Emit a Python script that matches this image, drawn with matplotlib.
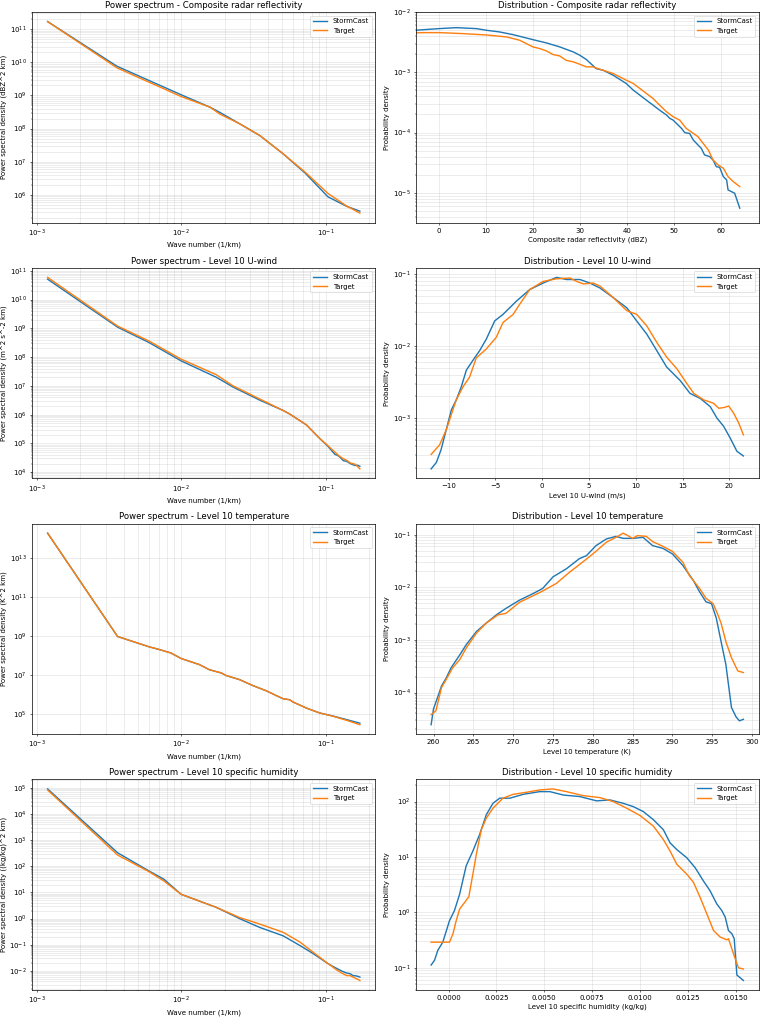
import matplotlib
matplotlib.use("Agg")
import matplotlib.pyplot as plt
from matplotlib.ticker import MultipleLocator, FormatStrFormatter

# ---------------- Power spectra ----------------
k_radar = [1.19e-3, 3.6e-3, 1.0e-2, 1.59e-2, 1.85e-2, 2.54e-2, 3.5e-2, 5.08e-2, 7.2e-2, 1.04e-1, 1.4e-1, 1.73e-1]
psd_radar_sc = [1.7e11, 7.6e9, 1.05e9, 4.4e8, 3.1e8, 1.4e8, 6.2e7, 1.74e7, 4.6e6, 8.7e5, 4.5e5, 3.2e5]
psd_radar_tg = [1.7e11, 6.8e9, 9.3e8, 4.4e8, 2.75e8, 1.4e8, 6.2e7, 1.74e7, 4.9e6, 1.1e6, 4.6e5, 2.8e5]

k_u = [1.19e-3, 3.63e-3, 6.0e-3, 1.0e-2, 1.75e-2, 2.29e-2, 3.5e-2, 5.08e-2, 5.65e-2,
       7.38e-2, 9.1e-2, 1.04e-1, 1.16e-1, 1.24e-1, 1.33e-1, 1.40e-1, 1.48e-1, 1.6e-1, 1.66e-1, 1.73e-1]
psd_u_sc = [5.1e10, 1.1e9, 3.2e8, 7.4e7, 2.0e7, 9.1e6, 3.2e6, 1.4e6, 1.05e6,
            4.4e5, 1.5e5, 7.9e4, 4.2e4, 3.6e4, 2.5e4, 2.4e4, 2.0e4, 1.7e4, 1.75e4, 1.6e4]
psd_u_tg = [5.9e10, 1.2e9, 3.6e8, 8.5e7, 2.45e7, 1.0e7, 3.5e6, 1.4e6, 1.05e6,
            4.4e5, 1.5e5, 8.3e4, 5.0e4, 3.7e4, 2.9e4, 2.6e4, 2.1e4, 1.9e4, 1.6e4, 1.3e4]

k_t = [1.19e-3, 3.63e-3, 6.0e-3, 7.07e-3, 8.5e-3, 1.0e-2, 1.34e-2, 1.57e-2, 1.9e-2, 2.05e-2, 2.54e-2,
       3.15e-2, 3.89e-2, 4.57e-2, 5.08e-2, 5.65e-2, 5.96e-2, 7.38e-2, 9.1e-2, 1.13e-1, 1.4e-1, 1.73e-1]
psd_t_sc = [1.8e14, 9.1e8, 2.7e8, 1.95e8, 1.3e8, 6.8e7, 3.3e7, 1.8e7, 1.23e7, 9.1e6, 5.6e6,
            2.75e6, 1.5e6, 8.5e5, 5.9e5, 5.2e5, 4.0e5, 1.95e5, 1.1e5, 7.6e4, 5.0e4, 3.3e4]
psd_t_tg = [1.8e14, 9.1e8, 2.7e8, 1.95e8, 1.3e8, 6.8e7, 3.3e7, 1.8e7, 1.23e7, 9.1e6, 5.6e6,
            2.75e6, 1.5e6, 8.5e5, 5.9e5, 5.2e5, 4.0e5, 1.95e5, 1.1e5, 7.4e4, 4.6e4, 2.75e4]

k_q = [1.19e-3, 3.63e-3, 6.0e-3, 7.6e-3, 1.0e-2, 1.75e-2, 2.54e-2, 3.5e-2, 5.08e-2, 6.66e-2,
       8.2e-2, 1.04e-1, 1.12e-1, 1.19e-1, 1.3e-1, 1.4e-1, 1.48e-1, 1.55e-1, 1.64e-1, 1.73e-1]
psd_q_sc = [9.1e4, 330, 66, 32, 8.5, 2.7, 1.0, 0.46, 0.22, 0.093, 0.046, 0.019, 0.0150, 0.0126,
            0.0098, 0.0083, 0.0078, 0.0066, 0.0064, 0.0058]
psd_q_tg = [8.3e4, 270, 62, 27.5, 8.5, 2.7, 1.1, 0.62, 0.30, 0.126, 0.052, 0.019, 0.0142, 0.011,
            0.0082, 0.0066, 0.0066, 0.0058, 0.0050, 0.0043]

# ---------------- Distributions ----------------
x_radar_sc = [-5, 0, 3.7, 8.0, 10.1, 12.9, 15.8, 20.0, 22.9, 25.7, 28.6, 30.0, 31.4, 33.5, 35.0, 37.1,
              39.9, 41.4, 42.8, 44.2, 45.6, 47.0, 48.5, 49.2, 49.9, 50.6, 51.7, 52.4, 53.4, 54.2, 55.2,
              55.9, 56.6, 57.7, 58.4, 59.1, 59.8, 60.6, 61.3, 61.6, 62.3, 63.0, 64.1]
pdf_radar_sc = [4.98e-3, 5.3e-3, 5.5e-3, 5.3e-3, 4.98e-3, 4.67e-3, 4.21e-3, 3.48e-3, 3.07e-3, 2.64e-3,
                2.18e-3, 1.92e-3, 1.63e-3, 1.15e-3, 1.08e-3, 8.96e-4, 6.52e-4, 5.06e-4, 4.18e-4, 3.45e-4,
                2.86e-4, 2.36e-4, 1.95e-4, 1.72e-4, 1.61e-4, 1.42e-4, 1.17e-4, 9.95e-5, 9.7e-5, 7.52e-5,
                6.22e-5, 5.48e-5, 4.25e-5, 3.99e-5, 3.51e-5, 2.72e-5, 2.65e-5, 1.86e-5, 1.64e-5, 1.12e-5,
                1.05e-5, 9.9e-6, 5.57e-6]
x_radar_tg = [-5, -3.4, 0, 5.1, 10.1, 14.4, 17.2, 20.0, 21.5, 22.9, 24.3, 25.7, 27.1, 28.6, 30.0, 31.4,
              32.8, 35.0, 37.1, 39.9, 41.4, 42.8, 44.2, 45.6, 47.0, 48.5, 49.9, 51.3, 52.7, 54.2, 55.2,
              56.3, 57.4, 58.4, 59.5, 60.6, 61.6, 62.7, 64.1]
pdf_radar_tg = [4.5e-3, 4.55e-3, 4.55e-3, 4.38e-3, 4.16e-3, 3.86e-3, 3.4e-3, 2.64e-3, 2.47e-3, 2.26e-3,
                1.97e-3, 1.87e-3, 1.58e-3, 1.49e-3, 1.36e-3, 1.23e-3, 1.23e-3, 1.08e-3, 9.55e-4, 7.4e-4,
                6.52e-4, 5.39e-4, 4.46e-4, 3.68e-4, 2.86e-4, 2.21e-4, 1.83e-4, 1.61e-4, 1.17e-4, 9.7e-5,
                8.55e-5, 6.62e-5, 5.14e-5, 3.51e-5, 2.9e-5, 2.56e-5, 1.86e-5, 1.54e-5, 1.27e-5]

x_u_sc = [-11.86, -11.3, -10.8, -10.25, -9.7, -9.18, -8.64, -8.1, -7.4, -6.68, -5.96, -5.07, -4.18,
          -2.75, -1.32, 0.1, 1.54, 2.6, 4.04, 5.1, 6.18, 7.6, 9.04, 10.1, 11.18, 12.25, 13.3, 14.75,
          15.8, 16.9, 17.96, 18.68, 19.4, 20.1, 20.8, 21.5]
pdf_u_sc = [1.95e-4, 2.4e-4, 3.6e-4, 6.8e-4, 1.29e-3, 1.77e-3, 2.7e-3, 4.6e-3, 6.3e-3, 8.6e-3, 1.25e-2,
            2.23e-2, 2.75e-2, 4.2e-2, 6.1e-2, 7.5e-2, 9.0e-2, 8.4e-2, 8.4e-2, 7.5e-2, 6.4e-2, 4.7e-2,
            3.4e-2, 2.23e-2, 1.46e-2, 8.6e-3, 5.1e-3, 3.3e-3, 2.19e-3, 1.86e-3, 1.43e-3, 9.9e-4, 7.6e-4,
            5.2e-4, 3.44e-4, 2.95e-4]
x_u_tg = [-11.86, -10.96, -10.25, -9.18, -8.46, -7.75, -7.04, -5.96, -4.9, -4.18, -3.1, -2.4, -1.32,
          0.1, 1.54, 2.96, 3.7, 4.4, 5.46, 6.18, 7.6, 9.04, 10.1, 11.18, 12.25, 13.3, 14.4, 15.46,
          16.2, 17.25, 18.3, 18.86, 19.4, 19.93, 20.46, 21.0, 21.5]
pdf_u_tg = [3.1e-4, 4.2e-4, 6.8e-4, 1.77e-3, 2.7e-3, 3.7e-3, 6.8e-3, 9.1e-3, 1.32e-2, 2.12e-2, 2.75e-2,
            3.8e-2, 6.1e-2, 7.9e-2, 8.6e-2, 8.8e-2, 7.9e-2, 7.3e-2, 7.5e-2, 6.8e-2, 4.7e-2, 3.1e-2,
            2.75e-2, 1.9e-2, 1.12e-2, 7.0e-3, 4.8e-3, 3.0e-3, 2.19e-3, 1.78e-3, 1.6e-3, 1.36e-3, 1.39e-3,
            1.46e-3, 1.16e-3, 8.5e-4, 5.8e-4]

x_t_sc = [259.7, 260.0, 260.5, 261.0, 261.6, 262.2, 263.3, 264.1, 265.4, 266.6, 267.9, 269.1, 270.8,
          272.5, 273.7, 275.0, 276.7, 278.3, 279.2, 280.4, 281.7, 282.9, 283.8, 285.0, 286.3, 287.5,
          288.8, 290.0, 291.3, 292.6, 293.4, 294.2, 294.9, 295.5, 296.1, 296.7, 297.4, 298.0, 298.4, 298.9]
pdf_t_sc = [2.45e-5, 4.9e-5, 8.0e-5, 1.33e-4, 1.9e-4, 2.95e-4, 5.2e-4, 8.1e-4, 1.45e-3, 2.08e-3, 3.0e-3,
            3.98e-3, 5.7e-3, 7.6e-3, 9.5e-3, 1.58e-2, 2.26e-2, 3.5e-2, 4.0e-2, 6.2e-2, 8.3e-2, 9.3e-2,
            8.5e-2, 8.5e-2, 8.9e-2, 6.2e-2, 5.5e-2, 4.3e-2, 2.6e-2, 1.36e-2, 8.2e-3, 5.3e-3, 4.9e-3,
            2.58e-3, 9.3e-4, 3.4e-4, 5.2e-5, 3.4e-5, 2.9e-5, 3.1e-5]
x_t_tg = [259.7, 260.3, 261.0, 261.6, 262.4, 263.3, 264.1, 265.4, 266.6, 268.1, 269.1, 270.8, 272.5,
          273.7, 275.4, 277.1, 278.7, 280.0, 281.7, 282.9, 283.8, 284.4, 285.0, 285.6, 286.7, 287.5,
          288.8, 290.0, 291.3, 292.1, 293.4, 294.2, 295.1, 295.7, 296.1, 296.7, 297.4, 298.2, 298.9]
pdf_t_tg = [3.8e-5, 4.5e-5, 1.24e-4, 1.78e-4, 2.95e-4, 4.24e-4, 7.0e-4, 1.35e-3, 2.08e-3, 3.0e-3, 3.2e-3,
            5.2e-3, 6.9e-3, 8.5e-3, 1.18e-2, 1.95e-2, 3.0e-2, 4.3e-2, 7.2e-2, 8.9e-2, 1.07e-1, 9.6e-2,
            8.5e-2, 9.6e-2, 9.3e-2, 7.4e-2, 6.0e-2, 4.8e-2, 3.0e-2, 1.69e-2, 9.5e-3, 6.2e-3, 4.9e-3,
            3.0e-3, 2.08e-3, 9.3e-4, 4.6e-4, 2.57e-4, 2.4e-4]

x_q_sc = [-0.00091, -0.00073, -0.00056, -0.0003, 0.00005, 0.00031, 0.00058, 0.00092, 0.00127, 0.00162,
          0.00197, 0.00232, 0.00267, 0.0032, 0.0039, 0.00476, 0.00529, 0.0060, 0.00686, 0.00773, 0.00843,
          0.00912, 0.00965, 0.01017, 0.0107, 0.01122, 0.01157, 0.01192, 0.01244, 0.01288, 0.01331,
          0.01366, 0.01401, 0.01427, 0.01445, 0.01462, 0.0148, 0.01492, 0.01506, 0.0154]
pdf_q_sc = [0.112, 0.137, 0.207, 0.29, 0.71, 1.08, 2.14, 6.9, 12.8, 25.3, 57.7, 93, 115, 115, 135, 151,
            151, 131, 123, 103, 107, 93, 81, 66, 47, 31, 18, 13.6, 9.7, 6.4, 3.7, 2.45, 1.42, 1.08, 0.82,
            0.47, 0.41, 0.335, 0.074, 0.059]
x_q_tg = [-0.00091, 0.00005, 0.00023, 0.0004, 0.00058, 0.00084, 0.00106, 0.00127, 0.00145, 0.00171,
          0.00197, 0.00232, 0.00284, 0.00337, 0.00406, 0.00476, 0.00546, 0.00616, 0.00703, 0.0079,
          0.0086, 0.0093, 0.0100, 0.0107, 0.01122, 0.01157, 0.01192, 0.01244, 0.01279, 0.01314,
          0.01349, 0.01384, 0.01418, 0.01453, 0.01462, 0.01488, 0.01514, 0.0154]
pdf_q_tg = [0.29, 0.29, 0.41, 0.71, 1.15, 1.51, 1.92, 4.9, 11.1, 31, 50, 76, 115, 135, 147, 162, 169,
            151, 128, 118, 100, 76, 56, 36, 20.6, 12.8, 7.4, 4.9, 3.5, 1.86, 0.94, 0.47, 0.36, 0.32,
            0.335, 0.18, 0.10, 0.095]

DPI = 760 / 15
plt.rcParams["lines.linewidth"] = 2.0
plt.rcParams["axes.linewidth"] = 1.0
plt.rcParams["grid.linewidth"] = 1.1

fig, axes = plt.subplots(4, 2, figsize=(15, 1017 / DPI), dpi=DPI)
fig.subplots_adjust(left=0.0421, right=0.9987, top=0.9882, bottom=0.0265,
                    wspace=0.1165, hspace=0.214)

spectra = [
    ("Composite radar reflectivity", "dBZ^2 km", k_radar, psd_radar_sc, k_radar, psd_radar_tg),
    ("Level 10 U-wind", "m^2 s^-2 km", k_u, psd_u_sc, k_u, psd_u_tg),
    ("Level 10 temperature", "K^2 km", k_t, psd_t_sc, k_t, psd_t_tg),
    ("Level 10 specific humidity", "(kg/kg)^2 km", k_q, psd_q_sc, k_q, psd_q_tg),
]
dists = [
    ("Composite radar reflectivity", "dBZ", x_radar_sc, pdf_radar_sc, x_radar_tg, pdf_radar_tg),
    ("Level 10 U-wind", "m/s", x_u_sc, pdf_u_sc, x_u_tg, pdf_u_tg),
    ("Level 10 temperature", "K", x_t_sc, pdf_t_sc, x_t_tg, pdf_t_tg),
    ("Level 10 specific humidity", "kg/kg", x_q_sc, pdf_q_sc, x_q_tg, pdf_q_tg),
]

for i, (name, unit, xs, ys, xt, yt) in enumerate(spectra):
    ax = axes[i, 0]
    ax.loglog(xs, ys, label="StormCast")
    ax.loglog(xt, yt, label="Target")
    ax.set_title(f"Power spectrum - {name}")
    ax.set_xlabel("Wave number (1/km)")
    ax.set_ylabel(f"Power spectral density ({unit})")
    ax.grid(True, which="both", alpha=0.3)
    ax.legend(loc="upper right")

for i, (name, unit, xs, ys, xt, yt) in enumerate(dists):
    ax = axes[i, 1]
    ax.semilogy(xs, ys, label="StormCast")
    ax.semilogy(xt, yt, label="Target")
    ax.set_title(f"Distribution - {name}")
    ax.set_xlabel(f"{name} ({unit})")
    ax.set_ylabel("Probability density")
    ax.grid(True, which="both", alpha=0.3)
    ax.legend(loc="upper right")
    if i == 0:
        ax.set_xlim(-5, 68.2)
        ax.set_ylim(3.2e-6, 1e-2)
    if i == 3:
        ax.xaxis.set_major_locator(MultipleLocator(0.0025))
        ax.xaxis.set_major_formatter(FormatStrFormatter("%.4f"))

fig.savefig("out.png", dpi=DPI)
